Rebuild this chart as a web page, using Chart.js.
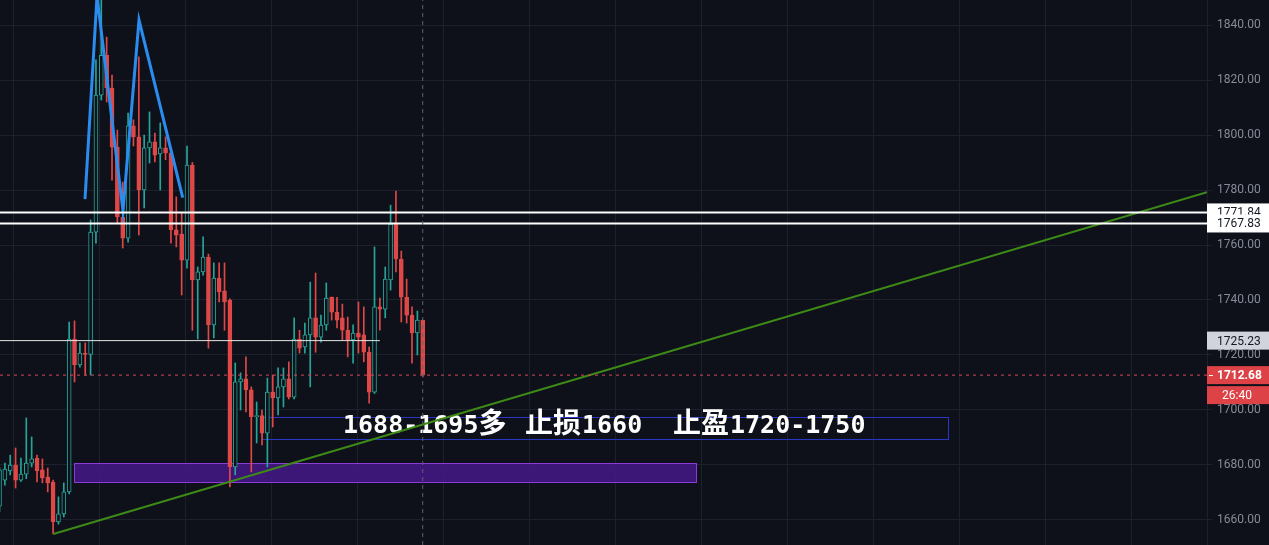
<!DOCTYPE html>
<html>
<head>
<meta charset="utf-8">
<script src="https://cdn.jsdelivr.net/npm/chart.js@4.4.1/dist/chart.umd.min.js"></script>
<style>
  html, body { margin: 0; padding: 0; background: #0e1119; overflow: hidden; }
  canvas { display: block; }
</style>
</head>
<body>
<canvas id="chart" width="1269" height="545"></canvas>
<script>
// candles (one per bar, left to right)
var opens  = [1665, 1674.5, 1677.8, 1680, 1674.5, 1676.7, 1680.7, 1682.5, 1678.2, 1675.6,
              1673.8, 1659.3, 1662.2, 1670.2, 1725.8, 1716.4, 1720.7, 1720.2, 1764.7, 1814.5,
              1829, 1817.1, 1795.6, 1770.2, 1762.5, 1803.3, 1799.3, 1780, 1795.3, 1797.5,
              1793.1, 1795.3, 1793.5, 1765.5, 1764, 1754.5, 1789.1, 1747.3, 1750.2, 1755.6,
              1730.9, 1748, 1743.3, 1740, 1679.3, 1710.2, 1711.3, 1707.3, 1697.5, 1698,
              1691.6, 1706.5, 1704.4, 1708.4, 1711.3, 1704.7, 1725.8, 1722.9, 1727.3, 1733.5,
              1726.5, 1730.9, 1741, 1735.6, 1733.5, 1729, 1725.5, 1728, 1727.3, 1721,
              1706.5, 1737.5, 1736.7, 1747.3, 1767.6, 1754.9, 1741, 1734.5, 1728, 1732.7];
var highs  = [1679, 1680.7, 1683.6, 1686.2, 1682.5, 1697.1, 1690.2, 1683.6, 1682.2, 1678.9,
              1674.5, 1668.4, 1673.5, 1732, 1732.4, 1724.4, 1724.4, 1769.1, 1827.3, 1850,
              1835.6, 1821.8, 1801.8, 1782.9, 1808, 1805.5, 1828.4, 1800, 1808.4, 1800.7,
              1804.4, 1799.3, 1794.5, 1777.5, 1771.6, 1796, 1790, 1752, 1763, 1756.7,
              1753.5, 1753.5, 1753.5, 1740.4, 1717.1, 1713.5, 1719.3, 1708.4, 1702.9, 1700,
              1711.6, 1712.7, 1715.3, 1715.3, 1717.5, 1733.5, 1729, 1731.6, 1746.5, 1749.8,
              1734.5, 1746.2, 1741.1, 1741, 1738.5, 1733.8, 1731, 1739.3, 1737.5, 1722.9,
              1759.3, 1740.7, 1752, 1774.5, 1779.6, 1757.8, 1747.6, 1737.5, 1736, 1732.7];
var lows   = [1663, 1672.7, 1676.4, 1671.6, 1674, 1675, 1679.3, 1673.8, 1673.5, 1670.2,
              1654.9, 1658.5, 1661.1, 1669.5, 1710.2, 1715.6, 1712.7, 1712.7, 1760.7, 1812.7,
              1812, 1783.6, 1768, 1758.9, 1761, 1796, 1763.6, 1773.5, 1789.8, 1790.2,
              1780, 1791, 1760.7, 1759.3, 1741.8, 1751.6, 1729, 1725.8, 1749, 1722.5,
              1726.2, 1739.3, 1729, 1672, 1676.4, 1700, 1699.3, 1677.5, 1688, 1687.3,
              1679.3, 1693.8, 1698.2, 1701.1, 1704, 1704, 1720.7, 1720.7, 1708.4, 1721,
              1724.7, 1729, 1732.7, 1729.8, 1725.5, 1719.3, 1717, 1720.7, 1717.5, 1702.5,
              1706, 1729, 1733.5, 1743.6, 1750.2, 1732, 1731.6, 1717, 1720, 1712];
var closes = [1678.2, 1678.5, 1680, 1674.5, 1676.7, 1680.7, 1682.2, 1677.8, 1675.3, 1673.5,
              1659.3, 1662.2, 1670.2, 1725.8, 1716.4, 1720.7, 1720.2, 1764.7, 1814.5, 1829,
              1817.1, 1795.6, 1770.2, 1762.5, 1803.3, 1799.3, 1780, 1795.3, 1797.5, 1792.7,
              1795.3, 1793.5, 1765.5, 1763.6, 1754.5, 1789.1, 1747.3, 1750.2, 1755.6, 1730.9,
              1748, 1742.9, 1739.3, 1679.3, 1710.2, 1711.3, 1707.3, 1697.5, 1698, 1691.6,
              1706.5, 1704.4, 1708.4, 1711.3, 1704.7, 1725.8, 1722.5, 1727.3, 1733.5, 1726.5,
              1730.9, 1740.7, 1735.6, 1732.7, 1729, 1725.5, 1728, 1726.5, 1721, 1706.5,
              1737.5, 1736.7, 1747.6, 1767.6, 1754.9, 1741, 1734.5, 1728, 1732.7, 1712.68];

// price axis
var yTicks = [1660, 1680, 1700, 1720, 1740, 1760, 1780, 1800, 1820, 1840];
var yMin = 1650.9, yMax = 1849.1;
var xMin = 0.09, xMax = 225.4;
var xGrid = [2.7, 18.75, 34.8, 50.85, 66.9, 82.95, 99, 115.05, 131.1, 147.15, 163.2, 179.25, 195.3, 211.35];

// drawings on the chart (bar index, price)
var mTopX = [15.96, 18.2, 23.05, 26.04, 34.2];
var mTopY = [1776.7, 1850.5, 1772.4, 1841.8, 1777.2];
var trendX = [10.04, 225.4];
var trendY = [1654.9, 1779.2];
var resistLevels = [1771.84, 1767.83];
var pivotLevel = 1725.23;
var pivotEnd = 71;
var lastPrice = 1712.68;
var countdown = '26:40';
var lastBar = 79;
var zoneX = [13.9, 130.1];
var zoneY = [1673.7, 1680.6];
var entryX = [49.0, 177.1];
var entryY = [1689.5, 1697.6];
var notePos = [64.12, 1691.6];
var noteParts = ['1688-1695', '多', '止损', '1660', '止盈', '1720-1750'];

var bgColor = '#0e1119';
var gridColor = '#1d212d';
var upColor = '#26a69a';
var downColor = '#e04848';

var wicks = [], bodies = [], wickColors = [], bodyFill = [], bodyBorder = [];
for (var i = 0; i < opens.length; i++) {
    var up = closes[i] >= opens[i];
    wicks.push({x: i, y: [lows[i], highs[i]]});
    bodies.push({x: i, y: [opens[i], closes[i]]});
    wickColors.push(up ? upColor : downColor);
    bodyFill.push(up ? bgColor : downColor);
    bodyBorder.push(up ? upColor : downColor);
}

function lineSet(xs, ys, color, width, dash) {
    var pts = [];
    for (var k = 0; k < xs.length; k++) pts.push({x: xs[k], y: ys[k]});
    return {
        type: 'line', data: pts, borderColor: color, borderWidth: width,
        borderDash: dash || [], pointRadius: 0, tension: 0, fill: false, order: 1
    };
}

var datasets = [
    {type: 'bar', data: wicks, backgroundColor: wickColors, borderWidth: 0,
     barThickness: 1, grouped: false, order: 3},
    {type: 'bar', data: bodies, backgroundColor: bodyFill, borderColor: bodyBorder,
     borderWidth: 1, borderSkipped: false, barThickness: 4, grouped: false, order: 2},
    lineSet([lastBar, lastBar], [yMin, yMax], '#5d606b', 1, [4, 4]),
    lineSet([xMin, xMax], [lastPrice, lastPrice], '#d64a5c', 1, [3, 4]),
    lineSet([xMin, pivotEnd], [pivotLevel, pivotLevel], '#e6e6e6', 1),
    lineSet([xMin, xMax], [resistLevels[0], resistLevels[0]], '#ffffff', 2),
    lineSet([xMin, xMax], [resistLevels[1], resistLevels[1]], '#ffffff', 2),
    lineSet(trendX, trendY, '#3d8a17', 2),
    lineSet(mTopX, mTopY, '#2b8cf0', 3)
];

// background, zones, note and price tags
var overlay = {
    id: 'overlay',
    beforeDraw: function(chart) {
        var ctx = chart.ctx;
        ctx.save();
        ctx.fillStyle = bgColor;
        ctx.fillRect(0, 0, chart.width, chart.height);
        ctx.restore();
    },
    beforeDatasetsDraw: function(chart) {
        var ctx = chart.ctx, xs = chart.scales.x, ys = chart.scales.y, a = chart.chartArea;
        ctx.save();
        ctx.beginPath();
        ctx.rect(a.left, a.top, a.right - a.left, a.bottom - a.top);
        ctx.clip();

        var l = xs.getPixelForValue(zoneX[0]), r = xs.getPixelForValue(zoneX[1]);
        var t = ys.getPixelForValue(zoneY[1]), b = ys.getPixelForValue(zoneY[0]);
        ctx.fillStyle = 'rgba(66,24,130,0.9)';
        ctx.fillRect(l, t, r - l, b - t);
        ctx.strokeStyle = '#8a3bd8';
        ctx.lineWidth = 1;
        ctx.strokeRect(Math.round(l) + 0.5, Math.round(t) + 0.5, Math.round(r - l), Math.round(b - t));

        l = xs.getPixelForValue(entryX[0]); r = xs.getPixelForValue(entryX[1]);
        t = ys.getPixelForValue(entryY[1]); b = ys.getPixelForValue(entryY[0]);
        ctx.strokeStyle = '#2a36c4';
        ctx.strokeRect(Math.round(l) + 0.5, Math.round(t) + 0.5, Math.round(r - l), Math.round(b - t));

        var nx = xs.getPixelForValue(notePos[0]), ny = ys.getPixelForValue(notePos[1]);
        var offsets = [0, 135.5, 182, 239, 330, 387];
        ctx.fillStyle = '#ffffff';
        ctx.textBaseline = 'alphabetic';
        ctx.textAlign = 'left';
        for (var k = 0; k < noteParts.length; k++) {
            var cjk = /[\u4e00-\u9fff]/.test(noteParts[k]);
            ctx.font = cjk ? 'bold 28px "Noto Sans CJK SC"' : 'bold 25px "DejaVu Sans Mono"';
            ctx.fillText(noteParts[k], nx + offsets[k], ny);
        }
        ctx.restore();
    },
    afterDraw: function(chart) {
        var ctx = chart.ctx, ys = chart.scales.y, left = chart.chartArea.right, w = chart.width - left;
        ctx.save();
        ctx.textBaseline = 'middle';
        ctx.textAlign = 'left';
        function tag(value, label, fill, color, font, dy, center) {
            var py = ys.getPixelForValue(value) + dy;
            ctx.fillStyle = fill;
            ctx.fillRect(left, py - 9, w, 18);
            ctx.fillStyle = color;
            ctx.font = font;
            if (center) {
                ctx.textAlign = 'center';
                ctx.fillText(label, left + w / 2 - 1, py + 1);
                ctx.textAlign = 'left';
            } else {
                ctx.fillText(label, left + 10, py + 1);
            }
        }
        tag(resistLevels[0], resistLevels[0].toFixed(2), '#ffffff', '#131722', '12px Roboto', 0);
        tag(resistLevels[1], resistLevels[1].toFixed(2), '#ffffff', '#131722', '12px Roboto', 0);
        tag(pivotLevel, pivotLevel.toFixed(2), '#d1d4dc', '#131722', '12px Roboto', 0);
        tag(lastPrice, lastPrice.toFixed(2), '#dc4246', '#ffffff', 'bold 12px Roboto', 0);
        tag(lastPrice, countdown, '#dc4246', '#ffffff', '12px Roboto', 20, true);
        var py = Math.round(ys.getPixelForValue(lastPrice)) + 0.5;
        ctx.strokeStyle = '#ffffff';
        ctx.lineWidth = 1;
        ctx.beginPath();
        ctx.moveTo(left + 2, py);
        ctx.lineTo(left + 6, py);
        ctx.stroke();
        ctx.restore();
    }
};

new Chart(document.getElementById('chart'), {
    type: 'bar',
    data: {datasets: datasets},
    plugins: [overlay],
    options: {
        responsive: false,
        animation: false,
        devicePixelRatio: 1,
        layout: {padding: 0},
        plugins: {legend: {display: false}, tooltip: {enabled: false}},
        scales: {
            x: {
                type: 'linear',
                offset: false,
                min: xMin,
                max: xMax,
                afterBuildTicks: function(scale) {
                    scale.ticks = xGrid.map(function(v) { return {value: v}; });
                },
                ticks: {display: false},
                grid: {color: gridColor, drawTicks: false, tickLength: 0, offset: false},
                border: {display: false}
            },
            y: {
                type: 'linear',
                position: 'right',
                min: yMin,
                max: yMax,
                afterBuildTicks: function(scale) {
                    scale.ticks = yTicks.map(function(v) { return {value: v}; });
                },
                afterFit: function(scale) {
                    scale.width = 62;
                    scale.paddingTop = 0;
                    scale.paddingBottom = 0;
                },
                ticks: {
                    color: '#868b98',
                    font: {family: 'Roboto', size: 12},
                    padding: 5,
                    callback: function(v) { return Number(v).toFixed(2); }
                },
                grid: {color: gridColor, tickColor: gridColor, tickLength: 5},
                border: {color: gridColor}
            }
        }
    }
});
</script>
</body>
</html>
